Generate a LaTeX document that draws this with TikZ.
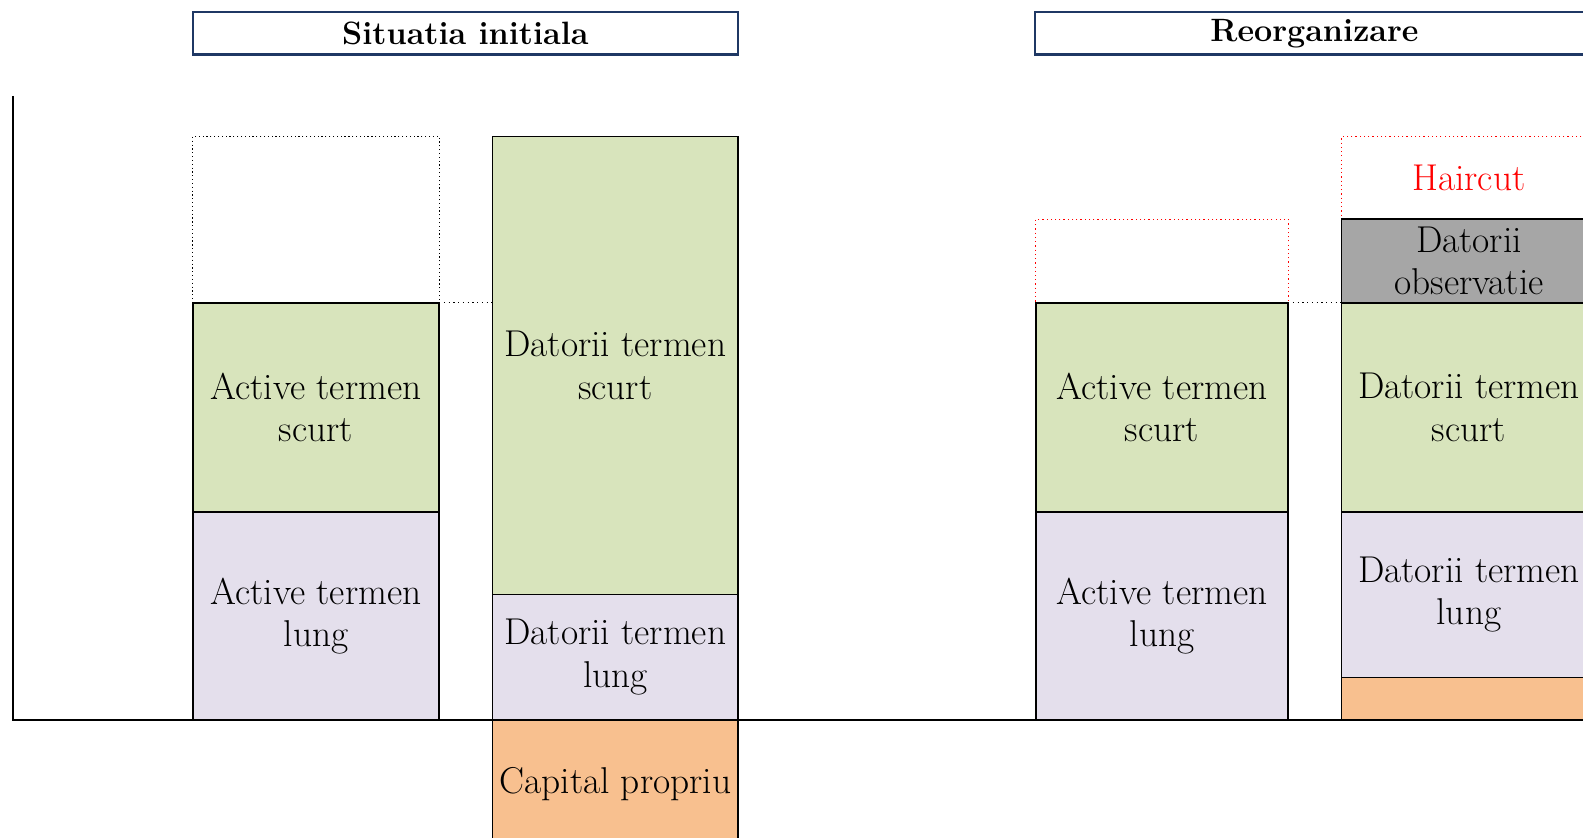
\documentclass[tikz,border=0pt]{standalone}
\usepackage{xcolor}
\definecolor{navy}{HTML}{1F3864}
\definecolor{grn}{HTML}{D8E4BC}
\definecolor{lav}{HTML}{E4DFEC}
\definecolor{org}{HTML}{F8C08F}
\definecolor{gry}{HTML}{A6A6A6}
\definecolor{hred}{HTML}{FF0000}
\begin{document}
\begin{tikzpicture}[x=1pt,y=-1pt,
  blk/.style={draw=black, line width=1.5pt, inner sep=0pt, outer sep=0pt, align=center,
    anchor=north west, font=\fontsize{37}{42}\selectfont},
  ttl/.style={draw=navy, line width=2.5pt, inner sep=0pt, align=center,
    font=\fontsize{32}{38}\selectfont\bfseries},
  dotbox/.style={draw=black, line width=1pt, dash pattern=on 1.2pt off 2.6pt, inner sep=0pt, outer sep=0pt, anchor=north west},
  reddot/.style={draw=hred, line width=1pt, dash pattern=on 1.2pt off 3pt, inner sep=0pt, outer sep=0pt,
    anchor=north west},
  htext/.style={text=hred, font=\fontsize{37}{42}\selectfont, inner sep=0pt},
  dotline/.style={draw=black, line width=1pt, dash pattern=on 1.2pt off 3.5pt},
  axis/.style={draw=black, line width=1.5pt}
]
\useasboundingbox (0,0) rectangle (1568,830);
\clip (0,0) rectangle (1568,830);

% titles
\node[ttl, minimum width=540pt, minimum height=42pt] (t1) at (461,33) {Situatia initiala};
\node[ttl, minimum width=554pt, minimum height=42pt] (t2) at (1302,33) {Reorganizare};

% column 1
\node[dotbox, minimum width=244pt, minimum height=165pt] (e1) at (191,135) {};
\node[blk, fill=grn, minimum width=244pt, minimum height=207pt] (as1) at (191,300) {Active termen\\scurt};
\node[blk, fill=lav, minimum width=244pt, minimum height=206pt] (al1) at (191,507) {Active termen\\lung};

% column 2
\node[blk, fill=grn, minimum width=243pt, minimum height=454pt] (ds1) at (488,135) {Datorii termen\\scurt};
\node[blk, fill=lav, minimum width=243pt, minimum height=124pt] (dl1) at (488,589) {Datorii termen\\lung};
\node[blk, fill=org, minimum width=243pt, minimum height=128pt] (cp1) at (488,713) {Capital propriu};

% column 3
\node[reddot, minimum width=250pt, minimum height=83pt] (e3) at (1026,217) {};
\node[blk, fill=grn, minimum width=250pt, minimum height=207pt] (as2) at (1026,300) {Active termen\\scurt};
\node[blk, fill=lav, minimum width=250pt, minimum height=206pt] (al2) at (1026,507) {Active termen\\lung};

% column 4
\node[reddot, minimum width=252pt, minimum height=82pt] (hc) at (1329,135) {};
\node[htext] (hct) at (hc.center) {Haircut};
\node[blk, fill=gry, minimum width=252pt, minimum height=83pt] (dob) at (1329,217) {Datorii\\observatie};
\node[blk, fill=grn, minimum width=252pt, minimum height=207pt] (ds2) at (1329,300) {Datorii termen\\scurt};
\node[blk, fill=lav, minimum width=252pt, minimum height=164pt] (dl2) at (1329,507) {Datorii termen\\lung};
\node[blk, fill=org, minimum width=252pt, minimum height=42pt] (cp2) at (1329,671) {};

% dotted connectors
\draw[dotline] (as1.north east) -- (as1.north east -| ds1.west);
\draw[dotline] (as2.north west) -- (as2.north east);
\draw[dotline] (as2.north east) -- (ds2.north west);
\draw[dotbox] (e1.south west) -- (e1.south east);

% axes
\coordinate (yt) at (13,95);
\coordinate (o) at (13,713);
\coordinate (xe) at (1580,713);
\draw[axis] (yt) -- (o) -- (xe);
\end{tikzpicture}
\end{document}
